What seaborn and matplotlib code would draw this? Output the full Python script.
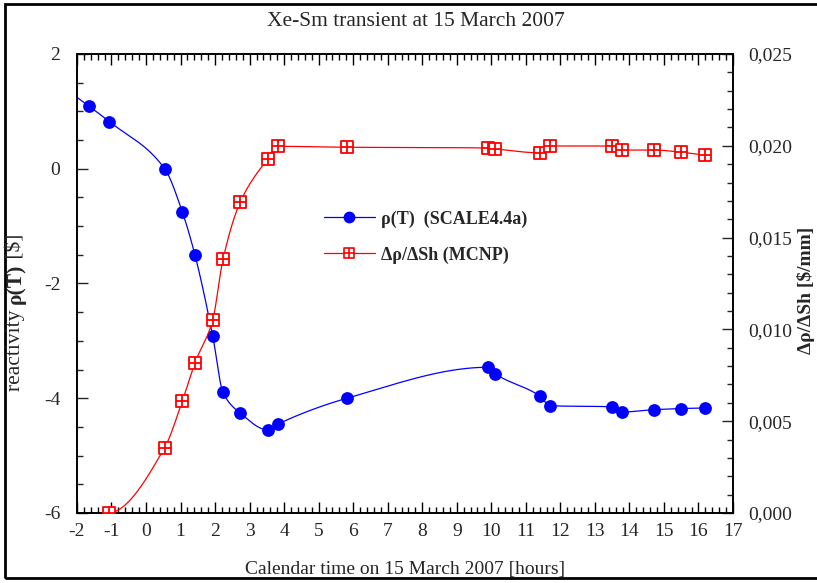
import numpy as np
import pandas as pd
import matplotlib
matplotlib.use("Agg")
import matplotlib.pyplot as plt
import seaborn as sns
from matplotlib.path import Path
from matplotlib.lines import Line2D
from matplotlib.patches import Rectangle
from matplotlib.ticker import MultipleLocator, FuncFormatter

# ---- data ----
t_rho = [-1.65, -1.06, 0.54, 1.05, 1.42, 1.93, 2.23, 2.73, 3.52, 3.82, 5.82,
         9.91, 10.11, 11.40, 11.70, 13.50, 13.79, 14.70, 15.50, 16.20]
rho = [1.09, 0.82, 0.00, -0.75, -1.51, -2.91, -3.90, -4.26, -4.55, -4.45, -4.00,
       -3.46, -3.57, -3.96, -4.13, -4.15, -4.24, -4.20, -4.18, -4.17]

t_drho = [-1.06, 0.54, 1.05, 1.42, 1.93, 2.23, 2.73, 3.52, 3.82, 5.82,
          9.91, 10.11, 11.41, 11.70, 13.50, 13.79, 14.70, 15.50, 16.20]
drho = [0.0000, 0.00356, 0.00608, 0.00819, 0.01050, 0.01382, 0.01694, 0.01928,
        0.01997, 0.01992, 0.01988, 0.01983, 0.01962, 0.01999, 0.01999, 0.01977,
        0.01977, 0.01965, 0.01948]

title = "Xe-Sm transient at 15 March 2007"
xlabel = "Calendar time on 15 March 2007 [hours]"
label_rho = "ρ(T)  (SCALE4.4a)"
label_drho = "Δρ/ΔSh (MCNP)"
ylabel_right = "Δρ/ΔSh [$/mm]"


def pchip(x, y, xs):
    x = np.asarray(x, float); y = np.asarray(y, float)
    n = len(x); h = np.diff(x); d = np.diff(y) / h
    m = np.zeros(n)
    for k in range(1, n - 1):
        if d[k - 1] * d[k] <= 0:
            m[k] = 0.0
        else:
            w1 = 2 * h[k] + h[k - 1]; w2 = h[k] + 2 * h[k - 1]
            m[k] = (w1 + w2) / (w1 / d[k - 1] + w2 / d[k])

    def endslope(h0, h1, d0, d1):
        s = ((2 * h0 + h1) * d0 - h0 * d1) / (h0 + h1)
        if np.sign(s) != np.sign(d0):
            s = 0.0
        elif np.sign(d0) != np.sign(d1) and abs(s) > abs(3 * d0):
            s = 3 * d0
        return s
    m[0] = endslope(h[0], h[1], d[0], d[1])
    m[-1] = endslope(h[-1], h[-2], d[-1], d[-2])
    i = np.clip(np.searchsorted(x, xs) - 1, 0, n - 2)
    hi = h[i]; t = (xs - x[i]) / hi
    h00 = 2 * t**3 - 3 * t**2 + 1; h10 = t**3 - 2 * t**2 + t
    h01 = -2 * t**3 + 3 * t**2; h11 = t**3 - t**2
    return h00 * y[i] + h10 * hi * m[i] + h01 * y[i + 1] + h11 * hi * m[i + 1]


sns.set_style("white")
plt.rcParams['font.family'] = ['Liberation Serif', 'DejaVu Serif']
plt.rcParams['axes.unicode_minus'] = False

fig = plt.figure(figsize=(8.17, 5.83), dpi=100)
ax = fig.add_axes([0.0942, 0.1201, 0.8030, 0.7873])
ax2 = ax.twinx()

sq_cross = Path([(-1, -1), (1, -1), (1, 1), (-1, 1), (-1, -1),
                 (0, -1), (0, 1), (-1, 0), (1, 0)],
                [Path.MOVETO, Path.LINETO, Path.LINETO, Path.LINETO, Path.CLOSEPOLY,
                 Path.MOVETO, Path.LINETO, Path.MOVETO, Path.LINETO])

# blue curve (extends to left axis edge)
xs_b = np.linspace(-2, max(t_rho), 800)
df_b = pd.DataFrame({"t": xs_b, "v": pchip(t_rho, rho, xs_b)})
sns.lineplot(data=df_b, x="t", y="v", ax=ax, color="blue", lw=0.9, sort=False)
sns.scatterplot(x=t_rho, y=rho, ax=ax, color="blue", s=85, edgecolor="blue",
                linewidth=0, zorder=5)

# red curve
xs_r = np.linspace(min(t_drho), max(t_drho), 800)
df_r = pd.DataFrame({"t": xs_r, "v": pchip(t_drho, drho, xs_r)})
sns.lineplot(data=df_r, x="t", y="v", ax=ax2, color="red", lw=0.9, sort=False)
ax2.plot(t_drho, drho, linestyle="none", marker=sq_cross, markersize=9,
         markerfacecolor="white", markeredgecolor="red", markeredgewidth=1.3, zorder=5)

ax.set_xlim(-2, 17); ax.set_ylim(-6, 2)
ax2.set_ylim(0, 0.025)
ax.set_xlabel(""); ax.set_ylabel(""); ax2.set_xlabel(""); ax2.set_ylabel("")

ax.xaxis.set_major_locator(MultipleLocator(1))
ax.xaxis.set_minor_locator(MultipleLocator(0.2))
ax.yaxis.set_major_locator(MultipleLocator(2))
ax.yaxis.set_minor_locator(MultipleLocator(0.5))
ax2.yaxis.set_major_locator(MultipleLocator(0.005))
ax2.yaxis.set_minor_locator(MultipleLocator(0.001))
ax2.yaxis.set_major_formatter(FuncFormatter(lambda v, p: f"{v:.3f}".replace('.', ',')))
ax.xaxis.set_major_formatter(FuncFormatter(lambda v, p: f"{v:.0f}"))
ax.yaxis.set_major_formatter(FuncFormatter(lambda v, p: f"{v:.0f}"))

ax.tick_params(axis='x', which='both', direction='in', top=True, bottom=True,
               labelsize=14, pad=7, color='black', width=1)
ax.tick_params(axis='y', which='both', direction='in', left=True, right=False,
               labelsize=14, pad=12, width=1)
ax2.tick_params(axis='y', which='both', direction='in', right=True, left=False,
                labelsize=14, pad=11, width=1)
for a in (ax, ax2):
    a.tick_params(which='major', length=8)
    a.tick_params(which='minor', length=4)
    for s in a.spines.values():
        s.set_color('black'); s.set_linewidth(1.2)

ax.set_title(title, fontsize=15.5, pad=20, x=0.517)
ax.set_xlabel(xlabel, fontsize=14, labelpad=15)

# right label
fig.text(806 / 817, 1 - 290 / 583, ylabel_right, rotation=90, ha='center', va='center',
         fontsize=14, fontweight='bold')

# left label with mixed weights
fig.canvas.draw()
r = fig.canvas.get_renderer()
xl = 16 / 817
y0 = 0.44
ycur = y0
parts = [("reactivity ", "normal"), ("ρ(T)", "bold"), (" [$]", "normal")]
made = []
for txt, w in parts:
    tt = fig.text(xl, ycur, txt, rotation=90, ha='center', va='bottom',
                  fontsize=15.5, fontweight=w)
    bb = tt.get_window_extent(renderer=r)
    ycur += bb.height / fig.bbox.height
    made.append(tt)
total = ycur - y0
center_target = (583 - 312) / 583
shift = center_target - (y0 + total / 2)
for tt in made:
    x0_, yy = tt.get_position()
    tt.set_position((x0_, yy + shift))

handles = [Line2D([], [], color='blue', lw=0.9, marker='o', markersize=8.5,
                  markeredgewidth=0),
           Line2D([], [], color='red', lw=0.9, marker=sq_cross, markersize=6.5,
                  markerfacecolor='white', markeredgecolor='red', markeredgewidth=1.2)]
leg = ax.legend(handles, [label_rho, label_drho], loc='upper left',
                bbox_to_anchor=(0.352, 0.695), frameon=False, handlelength=2.8,
                handletextpad=0.35, labelspacing=1.05,
                prop={'weight': 'bold', 'size': 13})

# outer frame (left, top, bottom visible; right side runs off the image)
fig.patches.append(Rectangle((0.006, 0.008), 1.0, 0.985, transform=fig.transFigure,
                             fill=False, lw=2, edgecolor='black'))

fig.savefig("out.png", dpi=100)
